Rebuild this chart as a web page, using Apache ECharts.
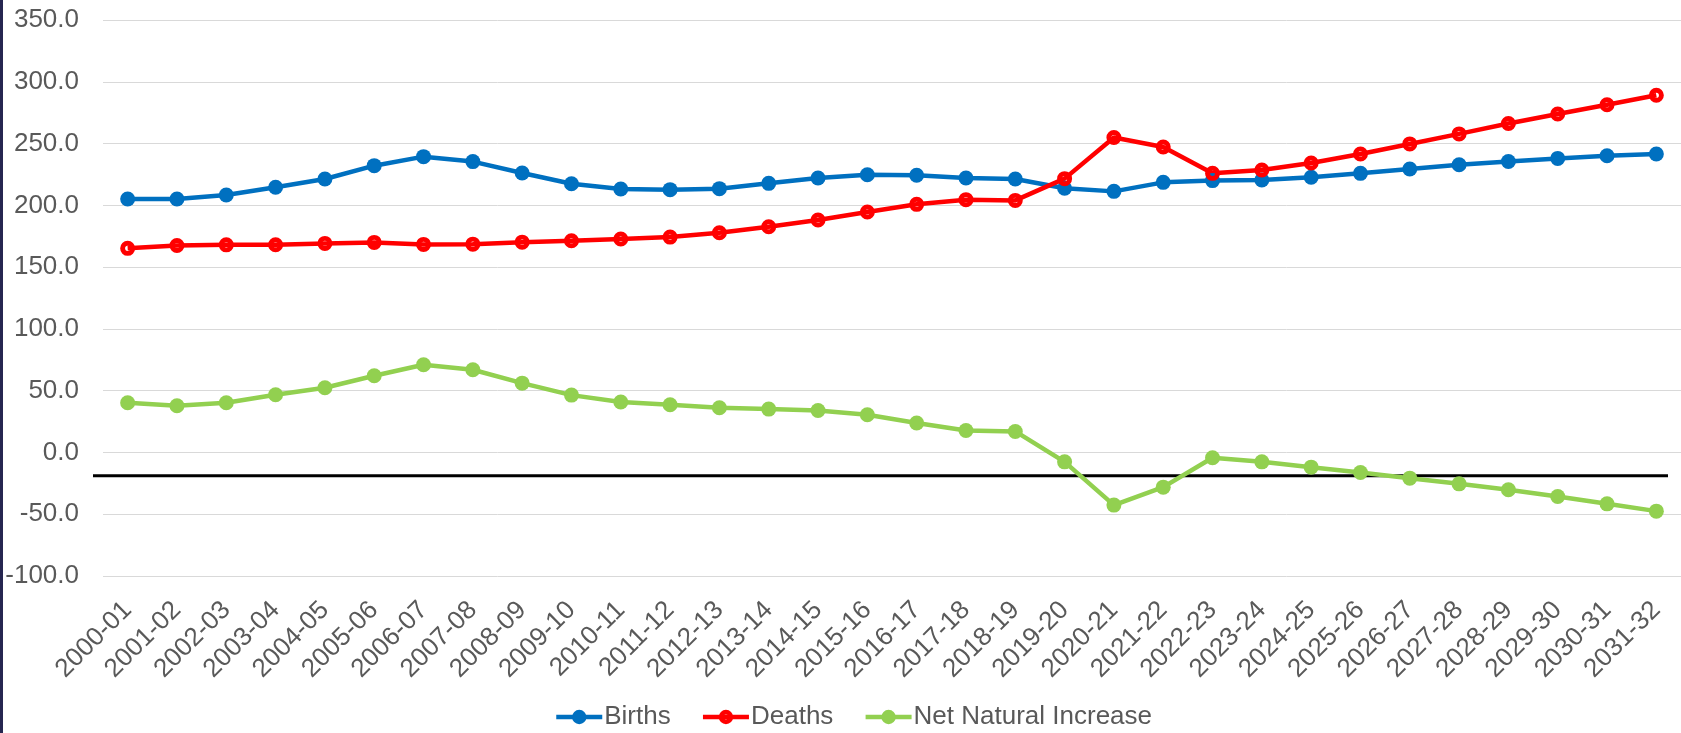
<!DOCTYPE html>
<html>
<head>
<meta charset="utf-8">
<title>Births, Deaths and Net Natural Increase</title>
<script src="https://cdn.jsdelivr.net/npm/echarts@6/dist/echarts.min.js"></script>
<style>
  html, body { margin: 0; padding: 0; background: #fff; }
  #chart { width: 1681px; height: 733px; }
</style>
</head>
<body>
<div id="chart"></div>
<script>
// financial years on the category axis
const years = [
  '2000-01', '2001-02', '2002-03', '2003-04', '2004-05', '2005-06', '2006-07', '2007-08',
  '2008-09', '2009-10', '2010-11', '2011-12', '2012-13', '2013-14', '2014-15', '2015-16',
  '2016-17', '2017-18', '2018-19', '2019-20', '2020-21', '2021-22', '2022-23', '2023-24',
  '2024-25', '2025-26', '2026-27', '2027-28', '2028-29', '2029-30', '2030-31', '2031-32'
];

const births = [
  205.1, 205.1, 208.4, 214.6, 221.3, 232.1, 239.4, 235.4, 226.2, 217.5,
  213.2, 212.7, 213.5, 217.8, 222.1, 224.8, 224.3, 222.1, 221.3, 213.8,
  211.3, 218.6, 220.0, 220.5, 222.7, 225.9, 229.4, 232.9, 235.5, 238.0, 240.1, 241.6
];

const deaths = [
  165.2, 167.5, 168.0, 168.1, 169.2, 170.0, 168.4, 168.6, 170.2, 171.3,
  172.7, 174.3, 177.8, 182.7, 188.1, 194.6, 200.8, 204.6, 204.0, 221.6,
  254.9, 247.2, 225.9, 228.6, 234.3, 241.6, 249.7, 257.8, 266.2, 273.9, 281.4, 289.1
];

const netIncrease = [
  40.2, 37.8, 40.2, 46.7, 52.4, 62.1, 71.0, 66.9, 56.1, 46.4,
  40.8, 38.6, 36.2, 35.1, 34.0, 30.5, 23.8, 17.8, 17.0, -7.6,
  -42.6, -28.1, -4.3, -7.6, -11.9, -16.2, -20.8, -25.4, -30.2, -35.6, -41.6, -47.5
];

// the black horizontal reference line sits at this value
const baselineValue = -18.9;

const font = 'Liberation Sans, Arial, sans-serif';
const textColor = '#595959';

// red ring marker with a small hole in the middle
const ringSymbol = 'path://M0,7 A7,7 0 1,0 14,7 A7,7 0 1,0 0,7 Z M4.6,7 A2.4,2.4 0 1,1 9.4,7 A2.4,2.4 0 1,1 4.6,7 Z';

const chart = echarts.init(document.getElementById('chart'), null, { renderer: 'canvas' });

chart.setOption({
  animation: false,
  backgroundColor: '#ffffff',
  textStyle: { fontFamily: font },
  grid: {
    left: 103,
    top: 20,
    width: 1581,
    height: 556,
    containLabel: false
  },
  legend: {
    left: 549,
    top: 699,
    itemWidth: 46,
    itemHeight: 18,
    itemGap: 30,
    lineStyle: { width: 4.5 },
    textStyle: { fontSize: 26, color: textColor, fontFamily: font, padding: [0, 0, 0, -3] },
    data: ['Births', 'Deaths', 'Net Natural Increase']
  },
  xAxis: {
    type: 'category',
    data: years,
    boundaryGap: true,
    axisLine: { show: false },
    axisTick: { show: false },
    axisLabel: {
      interval: 0,
      rotate: 45,
      margin: 30,
      fontSize: 26,
      color: textColor,
      fontFamily: font
    },
    splitLine: { show: false }
  },
  yAxis: {
    type: 'value',
    min: -100,
    max: 350,
    interval: 50,
    axisLine: { show: false },
    axisTick: { show: false },
    axisLabel: {
      margin: 24,
      fontSize: 26,
      color: textColor,
      fontFamily: font,
      formatter: function (v) { return v.toFixed(1); }
    },
    splitLine: { lineStyle: { color: '#d9d9d9', width: 1 } }
  },
  series: [
    {
      name: 'Births',
      type: 'line',
      data: births,
      symbol: 'circle',
      symbolSize: 15,
      showAllSymbol: true,
      lineStyle: { color: '#0070c0', width: 4.5 },
      itemStyle: { color: '#0070c0' }
    },
    {
      name: 'Deaths',
      type: 'line',
      data: deaths,
      symbol: ringSymbol,
      symbolSize: 15,
      showAllSymbol: true,
      lineStyle: { color: '#ff0000', width: 4.5 },
      itemStyle: { color: '#ff0000' }
    },
    {
      name: 'Net Natural Increase',
      type: 'line',
      data: netIncrease,
      symbol: 'circle',
      symbolSize: 15,
      showAllSymbol: true,
      lineStyle: { color: '#92d050', width: 4.5 },
      itemStyle: { color: '#92d050' }
    }
  ]
});

// black reference line and the dark frame edge on the left
const baseY = chart.convertToPixel({ yAxisIndex: 0 }, baselineValue);
chart.setOption({
  graphic: [
    {
      type: 'line',
      z: 1,
      shape: { x1: 93, y1: baseY, x2: 1668, y2: baseY },
      style: { stroke: '#000000', lineWidth: 3 }
    },
    {
      type: 'rect',
      z: 1,
      shape: { x: 0, y: 0, width: 3, height: 733 },
      style: { fill: '#262650' }
    }
  ]
});
</script>
</body>
</html>
